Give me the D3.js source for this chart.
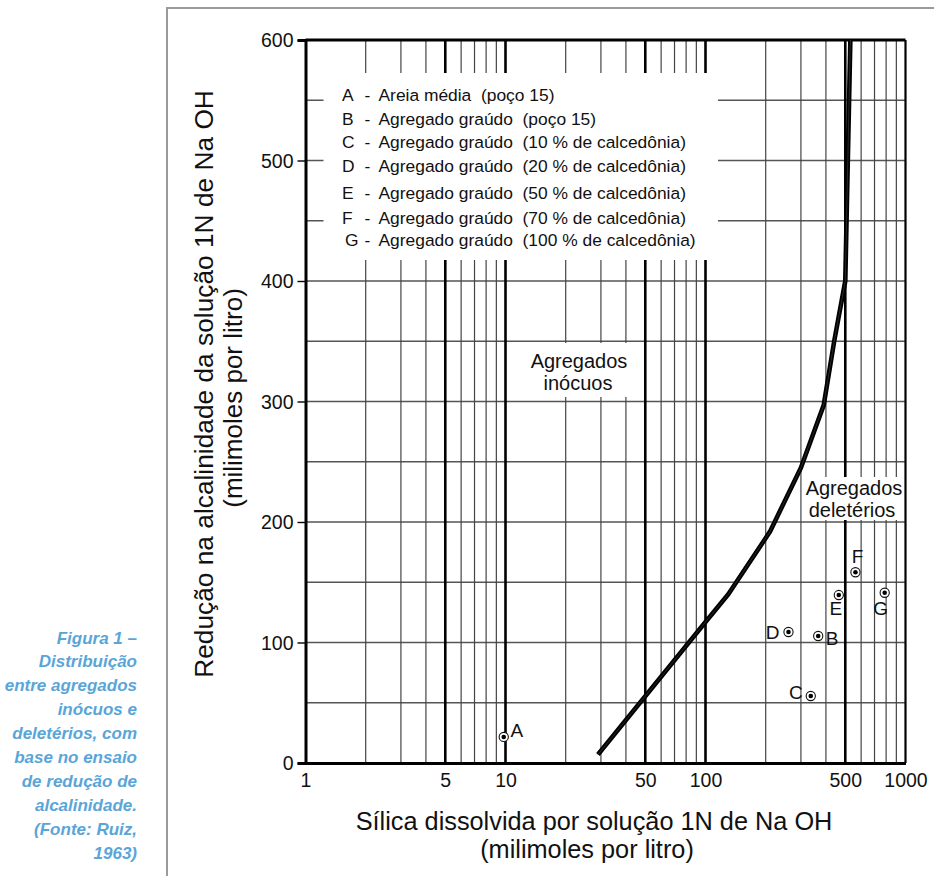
<!DOCTYPE html>
<html lang="pt">
<head>
<meta charset="utf-8">
<title>Redução de alcalinidade x sílica dissolvida</title>
<script src="https://d3js.org/d3.v7.min.js"></script>
<style>
  body { margin: 0; background: #fff; }
  text { font-family: "Liberation Sans", Arial, Helvetica, sans-serif; fill: #111; }
</style>
</head>
<body>
<script>
// --- data ---
var xTickValues = [1, 5, 10, 50, 100, 500, 1000];
var yTickValues = [0, 100, 200, 300, 400, 500, 600];
var boldGrid = [5, 10, 50, 100, 500];
var thinGrid = [2, 3, 4, 6, 7, 8, 9, 20, 30, 40, 60, 70, 80, 90, 200, 300, 400, 600, 700, 800, 900];
var hGrid = [50, 100, 150, 200, 250, 300, 350, 400, 450, 500, 550];

// limit curve between innocuous / deleterious aggregates
var curveSilica  = [29, 100, 130, 210, 300, 390, 440, 500, 530];
var curveReducao = [7, 117, 140, 192, 245, 297, 350, 400, 600];

// samples
var pointLabels  = ["A", "B", "C", "D", "E", "F", "G"];
var pointSilica  = [9.8, 366, 336, 260, 464, 562, 787];
var pointReducao = [21.6, 105.4, 55.6, 108.7, 139.4, 158.3, 141.3];

var legendLetters = ["A", "B", "C", "D", "E", "F", "G"];
var legendTexts = [
  "Areia média  (poço 15)",
  "Agregado graúdo  (poço 15)",
  "Agregado graúdo  (10 % de calcedônia)",
  "Agregado graúdo  (20 % de calcedônia)",
  "Agregado graúdo  (50 % de calcedônia)",
  "Agregado graúdo  (70 % de calcedônia)",
  "Agregado graúdo  (100 % de calcedônia)"
];

var captionLines = ["Figura 1 –", "Distribuição", "entre agregados", "inócuos e",
  "deletérios, com", "base no ensaio", "de redução de", "alcalinidade.", "(Fonte: Ruiz,", "1963)"];

// --- layout ---
var W = 934, H = 876;
var svg = d3.select("body").append("svg")
    .attr("width", W).attr("height", H);

var x = d3.scaleLog().domain([1, 1000]).range([305.5, 905.5]);
var y = d3.scaleLinear().domain([0, 600]).range([763, 40]);

// outer grey frame
svg.append("path")
    .attr("d", "M167,876 L167,8 L934,8")
    .attr("fill", "none").attr("stroke", "#9a9a9a").attr("stroke-width", 2);

// horizontal grid
svg.append("g").selectAll("line").data(hGrid).enter().append("line")
    .attr("x1", x(1)).attr("x2", x(1000))
    .attr("y1", function(d){ return y(d); }).attr("y2", function(d){ return y(d); })
    .attr("stroke", "#555").attr("stroke-width", 1.4);

// vertical grid
svg.append("g").selectAll("line").data(thinGrid).enter().append("line")
    .attr("x1", function(d){ return x(d); }).attr("x2", function(d){ return x(d); })
    .attr("y1", y(0)).attr("y2", y(600))
    .attr("stroke", "#444").attr("stroke-width", 1.2);
svg.append("g").selectAll("line").data(boldGrid).enter().append("line")
    .attr("x1", function(d){ return x(d); }).attr("x2", function(d){ return x(d); })
    .attr("y1", y(0)).attr("y2", y(600))
    .attr("stroke", "#000").attr("stroke-width", 2.6);

// white boxes behind texts
svg.append("rect").attr("x", 323.5).attr("y", 73).attr("width", 394.5).attr("height", 187).attr("fill", "#fff");
svg.append("rect").attr("x", 515).attr("y", 343).attr("width", 124).attr("height", 54).attr("fill", "#fff");
svg.append("rect").attr("x", 803).attr("y", 477).attr("width", 101).attr("height", 43).attr("fill", "#fff");

// plot borders
svg.append("line").attr("x1", x(1)).attr("x2", x(1000)).attr("y1", y(600)).attr("y2", y(600))
    .attr("stroke", "#000").attr("stroke-width", 2.8);
svg.append("line").attr("x1", x(1000)).attr("x2", x(1000)).attr("y1", y(600)).attr("y2", y(0))
    .attr("stroke", "#000").attr("stroke-width", 2.2);

// axes
var yAxis = d3.axisLeft(y).tickValues(yTickValues).tickSize(8).tickPadding(4).tickFormat(d3.format("d"));
var gy = svg.append("g").attr("transform", "translate(" + x(1) + ",0)").call(yAxis);
gy.select(".domain").attr("stroke", "#000").attr("stroke-width", 3);
gy.selectAll(".tick line").attr("stroke", "#000").attr("stroke-width", 1.4);
gy.selectAll(".tick text").attr("font-size", "19.5px").attr("font-family", null).attr("fill", "#111").attr("dy", "0.35em");

var xAxis = d3.axisBottom(x).tickValues(xTickValues).tickSize(0).tickPadding(10).tickFormat(d3.format("d"));
var gx = svg.append("g").attr("transform", "translate(0," + y(0) + ")").call(xAxis);
gx.select(".domain").attr("stroke", "#000").attr("stroke-width", 3);
gx.selectAll(".tick text").attr("font-size", "19.5px").attr("font-family", null).attr("fill", "#111").attr("dy", "0.71em");

// limit curve
var line = d3.line()
    .x(function(d){ return x(d[0]); })
    .y(function(d){ return y(d[1]); });
var curveData = d3.zip(curveSilica, curveReducao);
svg.append("path").datum(curveData)
    .attr("d", line).attr("fill", "none")
    .attr("stroke", "#000").attr("stroke-width", 4.6).attr("stroke-linejoin", "round");
svg.append("path").datum(curveData)
    .attr("d", line).attr("fill", "none")
    .attr("stroke", "#3a3a3a").attr("stroke-width", 0.7);

// sample points
var labelOffset = { A: [13, 0], B: [14, 9], C: [-15, 3], D: [-16, 7], E: [-3, 20], F: [2, -9], G: [-4, 22] };
var pts = d3.zip(pointLabels, pointSilica, pointReducao);
var gp = svg.append("g");
gp.selectAll("circle.ring").data(pts).enter().append("circle")
    .attr("class", "ring")
    .attr("cx", function(d){ return x(d[1]); }).attr("cy", function(d){ return y(d[2]); })
    .attr("r", 4.6).attr("fill", "#fff").attr("stroke", "#111").attr("stroke-width", 1.1);
gp.selectAll("circle.dot").data(pts).enter().append("circle")
    .attr("class", "dot")
    .attr("cx", function(d){ return x(d[1]); }).attr("cy", function(d){ return y(d[2]); })
    .attr("r", 2.3).attr("fill", "#000");
gp.selectAll("text").data(pts).enter().append("text")
    .attr("x", function(d){ return x(d[1]) + labelOffset[d[0]][0]; })
    .attr("y", function(d){ return y(d[2]) + labelOffset[d[0]][1]; })
    .attr("text-anchor", "middle").attr("font-size", "19px")
    .text(function(d){ return d[0]; });

// legend
var legendY = [101, 124.5, 148, 172, 198.5, 223.5, 246];
var gl = svg.append("g").attr("font-size", "17.4px");
gl.selectAll("text.l").data(legendLetters).enter().append("text")
    .attr("class", "l")
    .attr("x", function(d, i){ return i === 6 ? 345 : 342; })
    .attr("y", function(d, i){ return legendY[i]; })
    .text(function(d){ return d; });
gl.selectAll("text.dash").data(legendLetters).enter().append("text")
    .attr("class", "dash")
    .attr("x", 364.5)
    .attr("y", function(d, i){ return legendY[i]; })
    .text("-");
gl.selectAll("text.t").data(legendTexts).enter().append("text")
    .attr("class", "t")
    .attr("x", 378.5)
    .attr("y", function(d, i){ return legendY[i]; })
    .style("white-space", "pre")
    .text(function(d){ return d; });

// region labels
var region = svg.append("g").attr("font-size", "20px").attr("text-anchor", "middle");
region.append("text").attr("x", 579).attr("y", 368).text("Agregados");
region.append("text").attr("x", 578).attr("y", 390).text("inócuos");
region.append("text").attr("x", 854).attr("y", 495).text("Agregados");
region.append("text").attr("x", 852).attr("y", 517).text("deletérios");

// axis titles
svg.append("text")
    .attr("transform", "translate(213,384) rotate(-90)")
    .attr("text-anchor", "middle").attr("font-size", "26.3px")
    .text("Redução na alcalinidade da solução 1N de Na OH");
svg.append("text")
    .attr("transform", "translate(242,398) rotate(-90)")
    .attr("text-anchor", "middle").attr("font-size", "26px")
    .text("(milimoles por litro)");
svg.append("text")
    .attr("x", 594).attr("y", 830)
    .attr("text-anchor", "middle").attr("font-size", "25.3px")
    .text("Sílica dissolvida por solução 1N de Na OH");
svg.append("text")
    .attr("x", 587).attr("y", 858)
    .attr("text-anchor", "middle").attr("font-size", "25.3px")
    .text("(milimoles por litro)");

// caption
svg.append("g").selectAll("text").data(captionLines).enter().append("text")
    .attr("x", 137)
    .attr("y", function(d, i){ return 643.5 + i * 23.95; })
    .attr("text-anchor", "end")
    .attr("font-size", "17px").attr("font-weight", "bold").attr("font-style", "italic")
    .style("fill", "#5aa5d8")
    .text(function(d){ return d; });
</script>
</body>
</html>
